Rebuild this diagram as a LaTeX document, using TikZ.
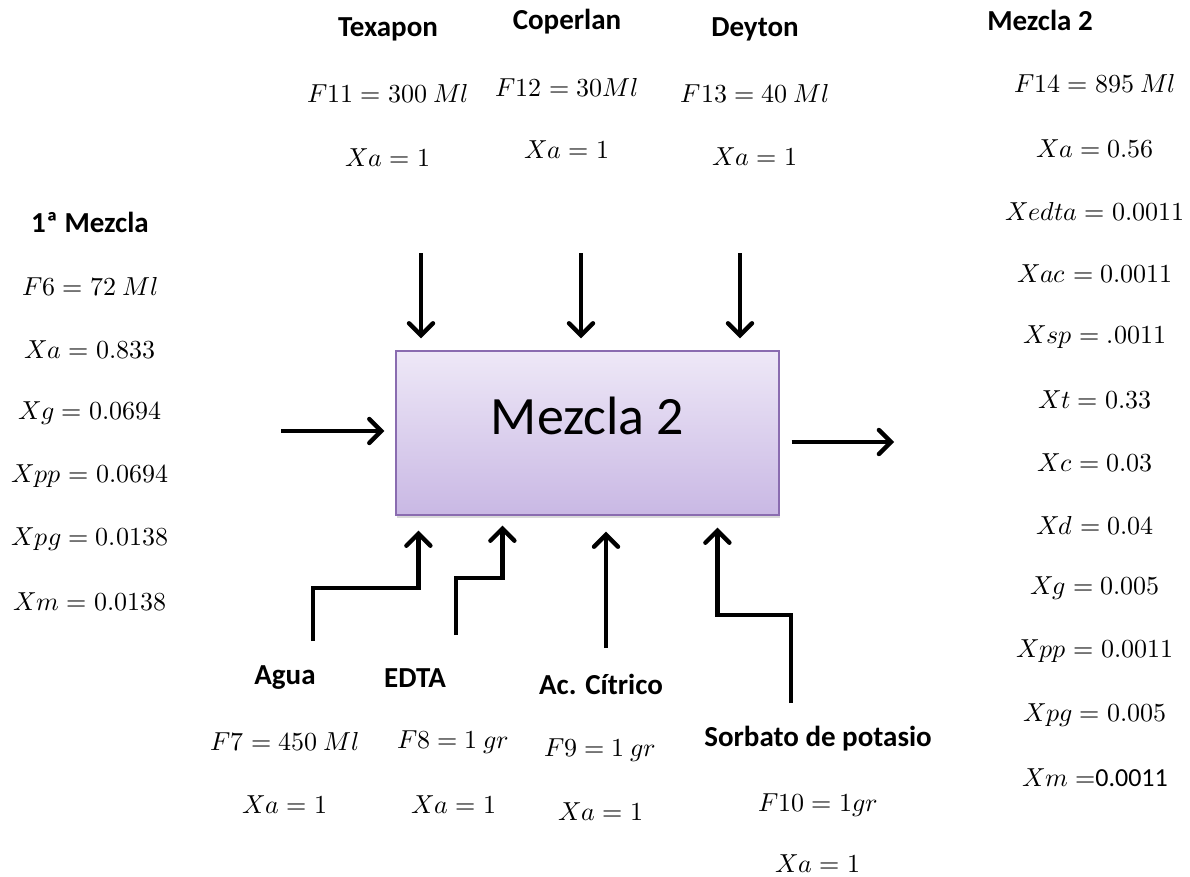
\documentclass[tikz,border=0pt]{standalone}
\usepackage{fontspec}
\usepackage{unicode-math}
\setmainfont{Carlito}
\setmathfont{Latin Modern Math}
\usetikzlibrary{arrows.meta,shadows}
\definecolor{lilatop}{RGB}{238,232,247}
\definecolor{lilabot}{RGB}{201,184,228}
\definecolor{lilaedge}{RGB}{138,108,176}
\tikzset{
  flow/.style={line width=4.4pt,-{Straight Barb[length=12pt,width=24pt,line cap=round]}},
  lbl/.style={font=\fontsize{29}{32}\selectfont\bfseries,inner sep=1pt},
  eq/.style={font=\fontsize{26}{30}\selectfont,inner sep=1pt},
  mixbox/.style={draw=lilaedge,line width=1.2pt,top color=lilatop,bottom color=lilabot,
    minimum width=383pt,minimum height=164pt,font=\fontsize{54}{58}\selectfont,text depth=34pt,
    drop shadow={opacity=0.3,shadow xshift=1pt,shadow yshift=-3pt}}
}
\begin{document}
\begin{tikzpicture}[x=1pt,y=-1pt]
\useasboundingbox (0,0) rectangle (1190,876);
% proceso
\node[mixbox] (mix) at (587.5,433) {Mezcla 2};

% corrientes de arriba
\node[lbl] (texapon) at (388,29) {Texapon};
\node[eq] (texF) at (388,94) {$F11 = 300\ Ml$};
\node[eq] (texX) at (388,158) {$Xa = 1$};
\node[lbl] (coperlan) at (567,22) {Coperlan};
\node[eq] (copF) at (567,88) {$F12 = 30Ml$};
\node[eq] (copX) at (567,150) {$Xa = 1$};
\node[lbl] (deyton) at (755,29) {Deyton};
\node[eq] (deyF) at (755,94) {$F13 = 40\ Ml$};
\node[eq] (deyX) at (755,157) {$Xa = 1$};
\coordinate (texS) at (421,253);
\coordinate (copS) at (581,253);
\coordinate (deyS) at (740,253);
\foreach \s in {texS,copS,deyS}
  \draw[flow,shorten >=12pt] (\s) -- (\s|-mix.north);

% entrada 1a mezcla
\node[lbl] (mezcla1) at (90,222) {1ª Mezcla};
\node[eq] (m1F) at (90,287) {$F6 = 72\ Ml$};
\node[eq] (m1a) at (90,350) {$Xa = 0.833$};
\node[eq] (m1g) at (90,413) {$Xg = 0.0694$};
\node[eq] (m1pp) at (90,476) {$Xpp = 0.0694$};
\node[eq] (m1pg) at (90,539) {$Xpg = 0.0138$};
\node[eq] (m1m) at (90,602) {$Xm = 0.0138$};
\coordinate (inS) at (281,431);
\draw[flow,shorten >=11pt] (inS) -- (inS-|mix.west);

% salida mezcla 2
\node[lbl] (mezcla2) at (1040,20) {Mezcla 2};
\node[eq] (m2F) at (1095,84) {$F14 = 895\ Ml$};
\node[eq] (m2a) at (1095,149) {$Xa = 0.56$};
\node[eq] (m2edta) at (1095,212) {$Xedta = 0.0011$};
\node[eq] (m2ac) at (1095,274) {$Xac = 0.0011$};
\node[eq] (m2sp) at (1095,337) {$Xsp = .0011$};
\node[eq] (m2t) at (1095,400) {$Xt = 0.33$};
\node[eq] (m2c) at (1095,463) {$Xc = 0.03$};
\node[eq] (m2d) at (1095,526) {$Xd = 0.04$};
\node[eq] (m2g) at (1095,588) {$Xg = 0.005$};
\node[eq] (m2pp) at (1095,651) {$Xpp = 0.0011$};
\node[eq] (m2pg) at (1095,715) {$Xpg = 0.005$};
\node[eq] (m2m) at (1095,778) {$Xm =$0.0011};
\coordinate (outE) at (894,442);
\draw[flow,shorten <=12pt] (mix.east|-outE) -- (outE);

% corrientes de abajo
\node[lbl] (agua) at (285,678) {Agua};
\node[eq] (aguaF) at (285,742) {$F7 = 450\ Ml$};
\node[eq] (aguaX) at (285,805) {$Xa = 1$};
\node[lbl] (edta) at (415,678) {EDTA};
\node[eq] (edtaF) at (453,742) {$F8 = 1\ gr$};
\node[eq] (edtaX) at (454,805) {$Xa = 1$};
\node[lbl] (citrico) at (601,684) {Ac. Cítrico};
\node[eq] (citF) at (600,750) {$F9 = 1\ gr$};
\node[eq] (citX) at (601,812) {$Xa = 1$};
\node[lbl] (sorbato) at (818,739) {Sorbato de potasio};
\node[eq] (sorF) at (818,805) {$F10 = 1gr$};
\node[eq] (sorX) at (818,864) {$Xa = 1$};
\coordinate (aguaS) at (313,641);
\coordinate (edtaS) at (456,635);
\coordinate (citS) at (606,648);
\coordinate (sorS) at (791,703);
\draw[flow] (aguaS) -- ++(0,-53) -| ([xshift=23pt,yshift=-15pt]mix.south west);
\draw[flow] (edtaS) -- ++(0,-57) -| ([xshift=107pt,yshift=-10pt]mix.south west);
\draw[flow,shorten >=16pt] (citS) -- (citS|-mix.south);
\draw[flow] (sorS) -- ++(0,-88) -| ([xshift=322pt,yshift=-12pt]mix.south west);
\end{tikzpicture}
\end{document}
